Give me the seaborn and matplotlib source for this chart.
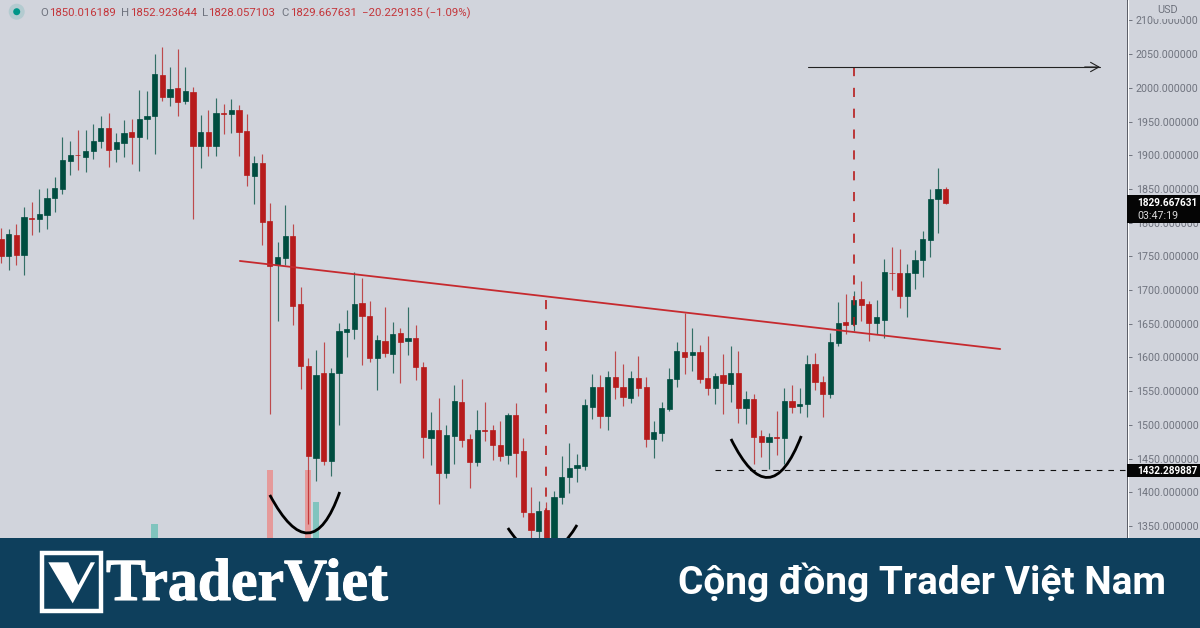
import matplotlib
matplotlib.use("Agg")
import matplotlib.pyplot as plt
import seaborn as sns
import numpy as np
import pandas as pd
from matplotlib.patches import Rectangle, Ellipse, Polygon, PathPatch
from matplotlib.path import Path
from matplotlib.lines import Line2D
from matplotlib.transforms import Affine2D
import matplotlib.patheffects as pe

# ---------- data ----------
direction = list(
    "RGRGRGGGGG" "RGGGRGGRGG" "GRGRGRGRGR" "GRRGRRGGRR" "RGRGGGGRRG"
    "RGRGRRGRGG" "RRGRRRGRRR" "GRGGGGGGRG" "RRGRRGGGGR" "GRRGRGRGRR"
    "GRGRGGRRGG" "RGRRGGRRGG" "GGGR")
body_top = [
    1775.8,1782.7,1781.7,1808,1806.9,1812.9,1837.1,1851.4,1892.5,1900.4,
    1900.5,1905.9,1921.7,1940,1940,1919.2,1933.6,1934.5,1953.8,1958.8,
    2020.6,2019.1,1998.8,1999.8,1995.4,1993.9,1934.5,1934.5,1962.7,1962.2,
    1967.2,1967.2,1936,1888.5,1889,1802,1749.1,1780.2,1780.2,1679.3,
    1587.4,1574,1576.5,1577.5,1639.3,1642.7,1679.3,1680.3,1662,1625.9,
    1624.4,1635.3,1636.8,1628.4,1629.4,1585.9,1492.9,1492.9,1485,1535.4,
    1534,1478.5,1491.9,1492.4,1491.9,1470.1,1514.6,1514.6,1460.7,1369.7,
    1372.2,1373.7,1392.5,1422.6,1436,1440,1529,1555.7,1555.7,1571.5,
    1571.5,1556.7,1570,1569,1555.7,1489.4,1524.5,1568.1,1609.1,1608.1,
    1608.1,1608.1,1569,1572.5,1574,1577.5,1577.5,1538.9,1538.9,1483.5,
    1482,1482,1535.4,1535.4,1531.5,1590.8,1590.8,1564.1,1622.5,1651.1,
    1652.6,1684.8,1687.2,1679.3,1659.5,1726.8,1725.8,1724.8,1724.8,1744.1,
    1775.3,1834.6,1850,1850]
body_bottom = [
    1751,1751,1752,1752,1806,1805.4,1811.4,1836.1,1850.4,1891.5,
    1899.7,1897.4,1906.4,1921.7,1908.3,1909.8,1918.2,1927.6,1927.6,1954.3,
    1958.3,1986,1986,1979.6,1981,1914.3,1914.3,1913.3,1914.3,1961.2,
    1961.2,1934.5,1870.7,1868.8,1801,1736.2,1737.2,1747.1,1676.4,1587.4,
    1453.3,1450.8,1446.4,1446.4,1577.5,1638.3,1642.7,1661,1599.2,1599.2,
    1606.6,1605.2,1622.5,1623.9,1585.9,1482,1481,1429,1429,1483.5,
    1477.6,1444.9,1444.9,1491.4,1470.1,1454.3,1455.8,1458.3,1371.2,1343.5,
    1342.5,1290,1290,1392.5,1423.1,1436.5,1439,1527,1513.7,1513.7,
    1556.2,1541.4,1540.4,1554.7,1479,1479,1487.4,1523.5,1568.1,1600.7,
    1603.2,1568.1,1554.7,1554.7,1562.1,1561.1,1525.5,1525.5,1482,1475.1,
    1475.1,1481,1481,1527,1528.5,1531.5,1563.1,1545.3,1545.3,1621.5,
    1648.7,1650.1,1677.8,1651.1,1651.6,1656.1,1725,1691.7,1691.7,1724.8,
    1744.6,1774.8,1834.6,1829.7]
high = [
    1791.6,1790,1797.5,1822.8,1830.2,1849.5,1851.4,1867.8,1927.6,1920.7,
    1937.5,1937.5,1945.9,1957.8,1962.7,1932.6,1951.8,1953.8,1996.9,1995.4,
    2050.8,2060.7,2030.5,2057.2,2030.5,2000.8,1960.3,1966.7,1984.5,1976.1,
    1983.5,1974.1,1961.2,1898.9,1902.4,1828.7,1770.9,1826.2,1797.6,1704.6,
    1599.2,1611.1,1622.5,1584.9,1651.1,1670.4,1726.3,1717.4,1683.8,1632.8,
    1674.9,1652.1,1643.7,1675.4,1647.7,1593.3,1518.6,1540.4,1499.3,1559.2,
    1568,1486.9,1522.1,1534,1499.3,1505.3,1517.6,1531.9,1481,1407.8,
    1387,1385,1401.9,1453.3,1472.6,1456.8,1538.9,1575.5,1574,1580,
    1609.6,1590.3,1580,1602.2,1570.5,1505.7,1533.9,1584.9,1622.5,1666.5,
    1643.2,1618.5,1631.9,1577.5,1605.2,1616.5,1609.1,1549.8,1545.8,1491.9,
    1487.4,1520.6,1554.7,1559.2,1554.7,1603.2,1606.6,1572.5,1635.8,1682.3,
    1694.7,1698.1,1712.9,1683.8,1685.3,1746.6,1763.9,1760.9,1738.2,1759.5,
    1787.7,1850,1880.6,1852.9]
low = [
    1739.7,1729.8,1737.2,1722,1781.7,1786.7,1791.1,1816.3,1843,1870.7,
    1878.2,1875.7,1894,1910.8,1883.1,1890,1897.4,1887.5,1876.7,1924.2,
    1902.4,1980.5,1973.1,1957.8,1976.1,1805.4,1881.6,1899.4,1898.9,1931.6,
    1933.6,1899.4,1854.4,1827.7,1766.9,1516.6,1654.1,1737.2,1648.2,1553.7,
    1352.9,1417.2,1440,1424.1,1499.3,1601.2,1627.4,1588.8,1593.8,1552.2,
    1600.7,1577.5,1562.1,1603.2,1566.6,1450.8,1440,1383.1,1421.7,1442.4,
    1466.7,1406.8,1439,1476.1,1447.9,1446.4,1441.9,1423.1,1363.8,1300,
    1330,1270,1270,1382.1,1399.4,1415.7,1433,1508.7,1495.4,1491.9,
    1537.9,1528,1532.5,1542.8,1466.7,1451.3,1476.1,1520.6,1556.2,1575,
    1580,1562.6,1544.8,1531.5,1516.1,1534,1502.8,1501.3,1441.9,1452.8,
    1434,1455.3,1441.5,1518.1,1518.1,1512.2,1551.2,1512,1539.8,1617.5,
    1634.8,1638.8,1654.6,1624.4,1634.8,1629.4,1699.6,1673.9,1660.5,1701.6,
    1718.9,1749,1785.2,1828.1]
bar_index = list(range(-1, 123))

volume_bar = [19, 34, 39, 40]
volume_val = [14, 68, 68, 36]
volume_dir = ["G", "R", "R", "G"]

trend_x = [30.1, 129.1]
trend_y = [1743.2, 1612.6]
measure1_x = [70, 70]
measure1_y = [1685.3, 1330]
measure2_x = [110, 110]
measure2_y = [2031, 1645]
target_x = [104.1, 142.1]
target_y = [2031, 2031]
neckline_x = [92.0, 146]
neckline_y = [1432.9, 1432.9]
cup1_x = [34.0, 39.4, 43.1]
cup1_y = [1396, 1281, 1400.4]
cup2_x = [65.0, 69.6, 74.0]
cup2_y = [1347, 1267, 1351.5]
cup3_x = [94.05, 99.1, 103.2]
cup3_y = [1479.1, 1362.6, 1483.5]

price_ticks = [2100, 2050, 2000, 1950, 1900, 1850, 1800, 1750, 1700, 1650,
               1600, 1550, 1500, 1450, 1400, 1350]
legend_labels = ["O", "H", "L", "C"]
legend_values = ["1850.016189", "1852.923644", "1828.057103", "1829.667631"]
legend_change = "\u221220.229135 (\u22121.09%)"
last_price = "1829.667631"
countdown = "03:47:19"
line_price = "1432.289887"
title_brand = "TraderViet"
title_right = "Cộng đồng Trader Việt Nam"

# ---------- style ----------
BG = "#D1D4DC"
RED = "#B71C1C"
GREEN = "#004D40"
BANNER = "#0E3F5C"
GREY = "#6F737E"

sns.set_theme(style="white")
plt.rcParams["font.family"] = ["Roboto", "DejaVu Sans"]

fig = plt.figure(figsize=(12, 6.28), dpi=100, facecolor=BG)
px = Affine2D().scale(1, -1).translate(0, 628)   # overlay coordinates, top-left pixels

rect = [0, 0, 1127 / 1200, 1]
ax_vol = fig.add_axes(rect, zorder=1)
ax = fig.add_axes(rect, zorder=2)
ax_vol.set_facecolor(BG)
ax.patch.set_visible(False)

# volume overlay
vol = pd.DataFrame({"x": volume_bar, "v": volume_val, "d": volume_dir})
sns.barplot(data=vol, x="x", y="v", hue="d", palette={"G": "#80C4BE", "R": "#E59A9A"},
            native_scale=True, dodge=False, width=0.85, errorbar=None, legend=False,
            saturation=1, linewidth=0, ax=ax_vol)
ax_vol.set_ylim(-90, 538)

# candles
df = pd.DataFrame({"i": bar_index, "top": body_top, "bottom": body_bottom,
                   "high": high, "low": low, "d": direction})
df["body"] = df["top"] - df["bottom"]
for key, col in (("R", RED), ("G", GREEN)):
    s = df[df["d"] == key].sort_values("i")
    ax.vlines(s["i"], s["low"], s["high"], color=col, lw=0.85, alpha=0.75, zorder=2)
    sns.barplot(data=s, x="i", y="body", bottom=s["bottom"].to_numpy(), color=col,
                native_scale=True, width=0.68, errorbar=None, saturation=1,
                edgecolor=col, linewidth=0.5, zorder=3, ax=ax)

# drawings
sns.lineplot(x=trend_x, y=trend_y, color="#C62A2F", lw=1.3, estimator=None, sort=False, ax=ax, zorder=5)
for xs, ys in ((measure1_x, measure1_y), (measure2_x, measure2_y)):
    sns.lineplot(x=xs, y=ys, color="#B71C1C", lw=1.2, estimator=None, sort=False, ax=ax,
                 linestyle=(0, (5.5, 7)), zorder=5)
sns.lineplot(x=neckline_x, y=neckline_y, color="#111111", lw=0.8, estimator=None, sort=False, ax=ax,
             linestyle=(0, (5, 5.4)), zorder=5)
sns.lineplot(x=target_x, y=target_y, color="#222222", lw=0.8, estimator=None, sort=False, ax=ax, zorder=5)
ax.annotate("", xy=(target_x[1], target_y[1]), xytext=(target_x[1] - 2, target_y[1]),
            arrowprops=dict(arrowstyle="->,head_length=0.5,head_width=0.28", color="#222222", lw=0.8,
                            shrinkA=0, shrinkB=0), zorder=5)
for xs, ys in ((cup1_x, cup1_y), (cup2_x, cup2_y), (cup3_x, cup3_y)):
    ax.add_patch(PathPatch(Path(np.column_stack([xs, ys]), [Path.MOVETO, Path.CURVE3, Path.CURVE3]),
                           fc="none", ec="black", lw=2.0, zorder=6, capstyle="butt"))

# scales: index i sits at 8.7 + 7.68 i px, price p at (2130.4 - p) / 1.4837 px
ax.set_xlim((0 - 8.7) / 7.68, (1127 - 8.7) / 7.68)
ax.set_ylim(2130.4 - 1.4837 * 628, 2130.4)
ax_vol.set_xlim(ax.get_xlim())
ax_vol.set_axis_off()
ax.set_xlabel(""); ax.set_ylabel("")
ax.set_xticks([])
ax.yaxis.tick_right()
ax.set_yticks(price_ticks)
ax.set_yticklabels([f"{t:.6f}" for t in price_ticks])
ax.tick_params(axis="y", length=3.6, width=0.7, color=GREY, labelcolor=GREY, labelsize=7.7, pad=2.6)
for side in ("top", "left", "bottom"):
    ax.spines[side].set_visible(False)
ax.spines["right"].set_color("#50535E")
ax.spines["right"].set_linewidth(0.7)

# pane edge
fig.add_artist(Line2D([1128, 1128], [0, 538], transform=px, color="white", lw=0.8, zorder=4))

# USD header
fig.text(1168, 10, "USD", transform=px, ha="center", va="center", color=GREY, fontsize=7.8, zorder=6,
         bbox=dict(boxstyle="square,pad=0.35", fc=BG, ec="none"))

# last price tags
fig.add_artist(Rectangle((1127, 195), 73, 28, transform=px, fc="#050505", ec="none", zorder=7))
fig.text(1137, 203, last_price, transform=px, va="center", color="white", fontsize=7.2, fontweight="bold", zorder=8)
fig.text(1137, 216, countdown, transform=px, va="center", color="#DADADA", fontsize=7.7, zorder=8)
fig.add_artist(Rectangle((1127, 464), 73, 13, transform=px, fc="#050505", ec="none", zorder=7))
fig.text(1137, 470.5, line_price, transform=px, va="center", color="white", fontsize=7.2, fontweight="bold", zorder=8)

# OHLC legend
fig.add_artist(Ellipse((16.7, 11.7), 16, 16, transform=px, fc="#009688", ec="none", alpha=0.14, zorder=6))
fig.add_artist(Ellipse((16.7, 11.7), 7, 7, transform=px, fc="#009688", ec="none", zorder=7))
LEG_RED = "#C4353A"
for lab, val, lx, vx in zip(legend_labels, legend_values, [40, 121, 202, 281], [49, 130, 208, 290]):
    fig.text(lx, 13, lab, transform=px, va="center", color=GREY, fontsize=8.2, zorder=6)
    fig.text(vx, 13, val, transform=px, va="center", color=LEG_RED, fontsize=8.2, zorder=6)
fig.text(362, 13, legend_change, transform=px, va="center", color=LEG_RED, fontsize=8.2, zorder=6)

# banner
fig.add_artist(Rectangle((0, 538), 1200, 90, transform=px, fc=BANNER, ec="none", zorder=10))
fig.add_artist(Rectangle((42.3, 553), 58.2, 58, transform=px, fc="none", ec="white", lw=3.2, zorder=11,
                         joinstyle="miter"))
fig.add_artist(Polygon([(48.3, 562.3), (68.3, 562.3), (78.3, 585), (90.7, 562.3), (95, 562.3), (72.7, 603.3)],
                       closed=True, transform=px, fc="white", ec="none", zorder=11))
fig.text(106, 600, title_brand, transform=px, va="baseline", color="white", fontsize=43,
         family=["Liberation Serif", "DejaVu Serif"], fontweight="bold", zorder=11,
         path_effects=[pe.withStroke(linewidth=0.8, foreground="white")])
fig.text(1166, 594, title_right, transform=px, ha="right", va="baseline", color="white", fontsize=28,
         family=["Roboto", "DejaVu Sans"], fontweight="bold", zorder=11)

fig.savefig("out.png", dpi=100, facecolor=BG)
